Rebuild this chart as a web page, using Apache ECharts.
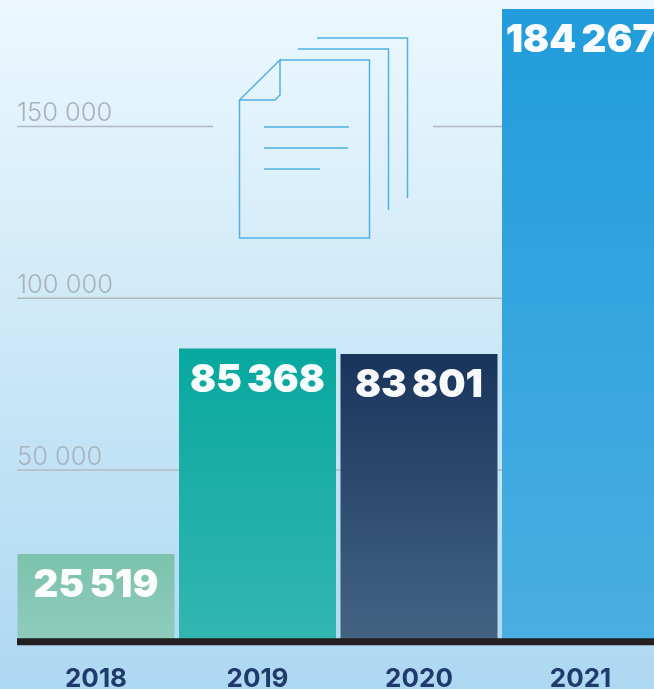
<!DOCTYPE html>
<html>
<head>
<meta charset="utf-8">
<style>
html, body { margin: 0; padding: 0; background: #fff; }
#main { width: 654px; height: 689px; }
</style>
<script src="https://cdn.jsdelivr.net/npm/echarts@6/dist/echarts.min.js"></script>
</head>
<body>
<div id="main"></div>
<script>
var years = ['2018', '2019', '2020', '2021'];
var values = [25519, 85368, 83801, 184267];
var barTop = ['#7ac1aa', '#02a69b', '#142f57', '#1b99da'];
var barBottom = ['#8ecbbb', '#2fb5b0', '#416080', '#47ade1'];
var yTicks = [50000, 100000, 150000];

function fmt(v) {
    return String(v).replace(/\B(?=(\d{3})+$)/g, '\u2009');
}

var chart = echarts.init(document.getElementById('main'));

var option = {
    animation: false,
    // 背景渐变
    backgroundColor: {
        type: 'linear', x: 0, y: 0, x2: 0, y2: 1,
        colorStops: [
            { offset: 0, color: '#ecf8fe' },
            { offset: 1, color: '#add8f1' }
        ]
    },
    grid: { left: 15.25, top: -45.1, width: 646, height: 686.8, outerBoundsMode: 'none' },
    xAxis: {
        type: 'category',
        data: years,
        axisLine: { show: false },
        axisTick: { show: false },
        axisLabel: {
            margin: 24,
            color: '#1f3a6b',
            fontFamily: 'Inter',
            fontWeight: 700,
            fontSize: 26
        }
    },
    yAxis: {
        type: 'value',
        min: 0,
        max: 200000,
        interval: 50000,
        splitLine: { show: false },
        axisLine: { show: false },
        axisTick: { show: false },
        axisLabel: {
            customValues: yTicks,
            inside: true,
            margin: 1.75,
            verticalAlign: 'bottom',
            color: '#a9b2b8',
            fontFamily: 'Inter',
            fontWeight: 300,
            fontSize: 25.5,
            formatter: function (v) { return String(v).replace(/\B(?=(\d{3})+$)/g, ' '); }
        }
    },
    series: [{
        type: 'bar',
        barWidth: 157,
        z: 5,
        data: values.map(function (v, i) {
            return {
                value: v,
                itemStyle: {
                    opacity: 0.97,
                    color: {
                        type: 'linear', x: 0, y: 0, x2: 0, y2: 1,
                        colorStops: [
                            { offset: 0, color: barTop[i] },
                            { offset: 1, color: barBottom[i] }
                        ]
                    }
                }
            };
        }),
        label: {
            show: true,
            position: 'insideTop',
            distance: 12,
            color: '#fff',
            fontFamily: 'Inter',
            fontWeight: 900,
            fontSize: 38.5,
            formatter: function (p) { return fmt(p.value); }
        }
    }]
};
chart.setOption(option);

// 网格线和图标用 graphic 画，150000 那条中间断开
var gridColor = '#b1b9be';
var iconColor = '#50b1e1';

function hline(x1, x2, y, color, width, z) {
    return {
        type: 'line',
        z: z,
        shape: { x1: x1, y1: y, x2: x2, y2: y },
        style: { stroke: color, lineWidth: width }
    };
}
function poly(points) {
    return {
        type: 'polyline',
        z: 6,
        shape: { points: points },
        style: { stroke: iconColor, lineWidth: 1.5, fill: null }
    };
}

var yPx = yTicks.map(function (v) { return chart.convertToPixel({ yAxisIndex: 0 }, v); });
var zeroPx = chart.convertToPixel({ yAxisIndex: 0 }, 0);

chart.setOption({
    graphic: {
        elements: [
            hline(17, 654, yPx[0], gridColor, 1.5, 1),
            hline(17, 654, yPx[1], gridColor, 1.5, 1),
            hline(17, 213, yPx[2], gridColor, 1.5, 1),
            hline(433, 510, yPx[2], gridColor, 1.5, 1),
            hline(17, 654, zeroPx, '#231f20', 7, 8),
            // 文件图标
            poly([[280, 60], [369.5, 60], [369.5, 238], [239.5, 238], [239.5, 100], [280, 60], [280, 95], [275, 100], [239.5, 100]]),
            poly([[298, 49], [388.5, 49], [388.5, 210]]),
            poly([[317, 38], [407.5, 38], [407.5, 198]]),
            hline(264, 349, 127, iconColor, 1.5, 6),
            hline(264, 348, 148, iconColor, 1.5, 6),
            hline(264, 320, 169, iconColor, 1.5, 6)
        ]
    }
});
</script>
</body>
</html>
